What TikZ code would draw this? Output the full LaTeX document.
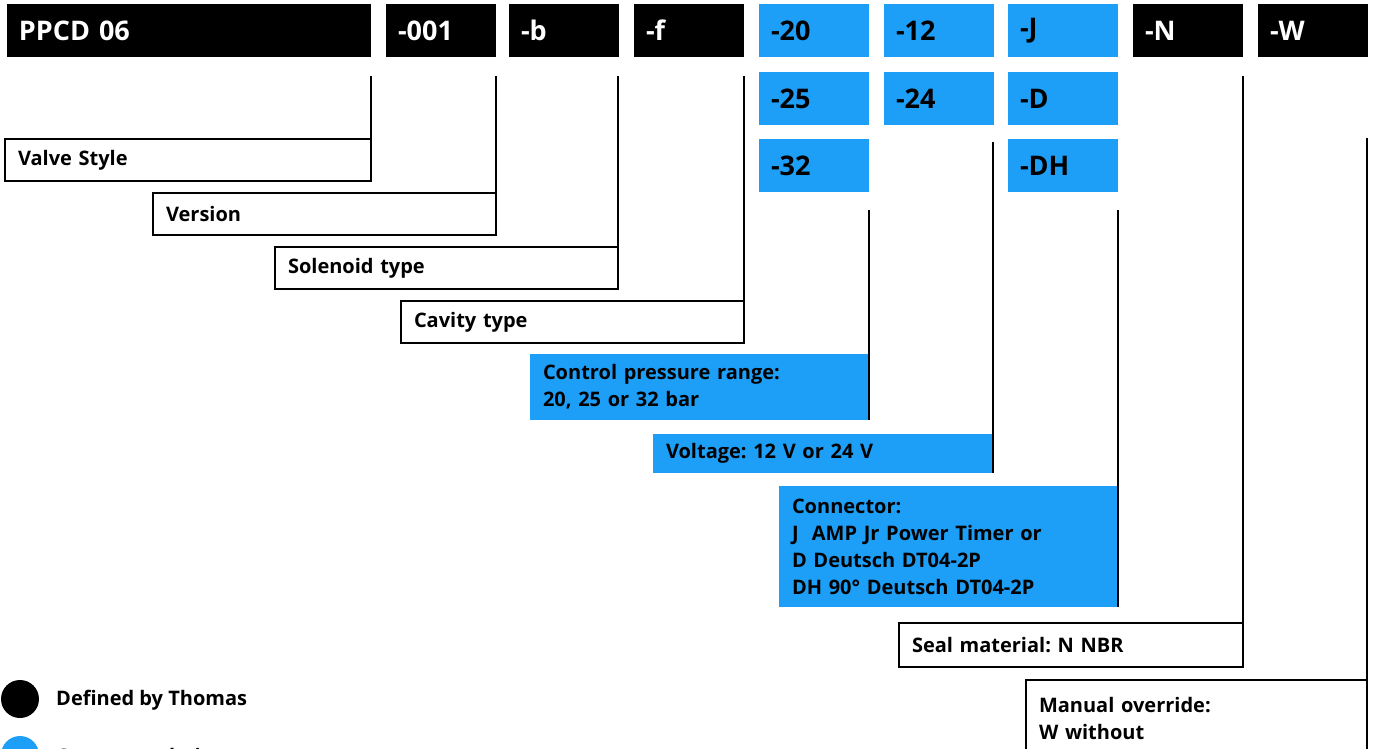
\documentclass[tikz,border=0pt]{standalone}
\usepackage{fontspec}
\setmainfont{Open Sans}
\frenchspacing
\definecolor{tblue}{RGB}{30,159,247}
\begin{document}
\begin{tikzpicture}[x=1pt,y=-1pt,
  every node/.style={font=\bfseries\fontsize{20}{27}\selectfont},
  codebox/.style={anchor=north west, inner xsep=12pt, inner ysep=0pt, outer sep=0pt,
    minimum height=53pt, text width=86pt, align=left,
    font=\bfseries\fontsize{27}{30}\selectfont},
  defcode/.style={codebox, fill=black, text=white},
  optcode/.style={codebox, fill=tblue, text=black},
  lab/.style={anchor=north west, inner xsep=13pt, inner ysep=0pt, outer sep=0pt,
    align=left, text width=#1},
  whitelab/.style={lab=#1, draw=black, line width=2.6pt, fill=white},
  bluelab/.style={lab=#1, fill=tblue},
  link/.style={draw=black, line width=2.2pt},
  dot/.style={circle, inner sep=0pt, minimum size=38pt}
]
\useasboundingbox (0,0) rectangle (1376,749);
\clip (0,0) rectangle (1376,749);

% top row
\node[defcode, text width=340pt] (c1) at (7,4) {PPCD 06};
\node[defcode] (c2) at (386,4) {-001};
\node[defcode] (c3) at (509,4) {-b};
\node[defcode] (c4) at (634,4) {-f};
\node[optcode] (c5) at (759,4) {-20};
\node[optcode] (c6) at (884,4) {-12};
\node[optcode] (c7) at (1008,4) {-J};
\node[defcode] (c8) at (1133,4) {-N};
\node[defcode] (c9) at (1258,4) {-W};
% second row
\node[optcode] (c5b) at (759,72) {-25};
\node[optcode] (c6b) at (884,72) {-24};
\node[optcode] (c7b) at (1008,72) {-D};
% third row
\node[optcode] (c5c) at (759,139) {-32};
\node[optcode] (c7c) at (1008,139) {-DH};

% label boxes
\node[whitelab=340pt, minimum height=42pt] (vs) at (5,139) {Valve Style};
\node[whitelab=317pt, minimum height=42pt] (ver) at (153,193) {Version};
\node[whitelab=317pt, minimum height=42pt] (sol) at (275,247) {Solenoid type};
\node[whitelab=317pt, minimum height=42pt] (cav) at (401,301) {Cavity type};
\node[bluelab=313pt, minimum height=66pt] (cp) at (530,354) {Control pressure range:\\20, 25 or 32 bar};
\node[bluelab=314pt, minimum height=39pt] (volt) at (653,434) {Voltage: 12 V or 24 V};
\node[bluelab=313pt, minimum height=121pt] (conn) at (779,486) {Connector:\\J\ \ AMP Jr Power Timer or\\D Deutsch DT04-2P\\DH 90° Deutsch DT04-2P};
\node[whitelab=318pt, minimum height=44pt] (seal) at (899,623) {Seal material: N NBR};
\node[whitelab=315pt, minimum height=76pt] (man) at (1026,680) {Manual override:\\W without};

% connector lines
\coordinate (p1) at (371,76);
\coordinate (p2) at (496,76);
\coordinate (p3) at (618,76);
\coordinate (p4) at (744,76);
\coordinate (p5) at (869,210);
\coordinate (p6) at (993,142);
\coordinate (p7) at (1118,210);
\coordinate (p8) at (1243,76);
\coordinate (p9) at (1367,138);
\draw[link] (p1) -- (vs.north east);
\draw[link] (p2) -- (ver.north east);
\draw[link] (p3) -- (sol.north east);
\draw[link] (p4) -- (cav.north east);
\draw[link] (p5) -- (cp.south east);
\draw[link] (p6) -- (volt.south east);
\draw[link] (p7) -- (conn.south east);
\draw[link] (p8) -- (seal.north east);
\draw[link] (p9) -- (man.north east);

% legend
\node[dot, fill=black] (d1) at (20,699) {};
\node[anchor=west, inner sep=0pt] (t1) at (56,700) {Defined by Thomas};
\node[dot, fill=tblue] (d2) at (20,755) {};
\node[anchor=west, inner sep=0pt] (t2) at (56,756) {Customer choice};
\end{tikzpicture}
\end{document}
